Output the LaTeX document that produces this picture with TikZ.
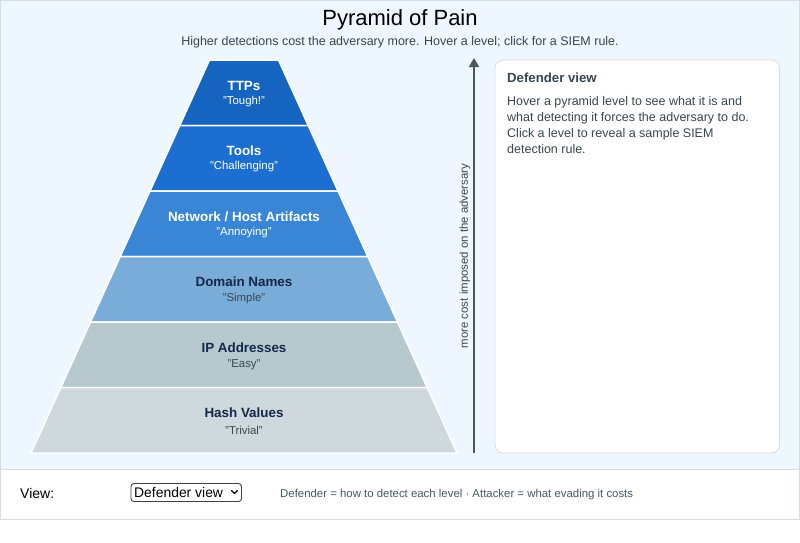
\documentclass[tikz,border=0pt]{standalone}
\usepackage{fontspec}
\setmainfont{Liberation Sans}
\usetikzlibrary{arrows.meta}
\definecolor{bgblue}{HTML}{EEF6FF}
\definecolor{frame}{HTML}{D5DCE3}
\definecolor{lvA}{HTML}{1565C0}
\definecolor{lvB}{HTML}{1C6FD0}
\definecolor{lvC}{HTML}{3A86D6}
\definecolor{lvD}{HTML}{79ACD9}
\definecolor{lvE}{HTML}{B8C8CF}
\definecolor{lvF}{HTML}{CFD8DD}
\definecolor{navy}{HTML}{14284A}
\definecolor{slate}{HTML}{455A64}
\definecolor{bodytxt}{HTML}{37474F}
\begin{document}
\begin{tikzpicture}[x=1pt,y=-1pt,
  level/.style={draw=white,line width=1.5pt,line join=miter},
  lname/.style={font=\fontsize{13.4}{15}\selectfont\bfseries,inner sep=0pt,anchor=center},
  lsub/.style={font=\fontsize{11.4}{13}\selectfont,inner sep=0pt,anchor=center},
  panelbox/.style={draw=frame,fill=white,rounded corners=8pt,line width=0.8pt},
  bodyline/.style={font=\fontsize{12.5}{16}\selectfont,text=bodytxt,inner sep=0pt,anchor=base west}]
\useasboundingbox (0,0) rectangle (800,542);
\fill[white] (0,0) rectangle (800,542);
% top area
\draw[fill=bgblue,draw=frame,line width=1pt] (0.5,0.5) rectangle (799.5,469);
% controls bar
\draw[fill=white,draw=frame,line width=1pt] (0.5,469) rectangle (799.5,519.5);
% title
\node[font=\fontsize{22}{26}\selectfont,inner sep=0pt] (title) at (400,20) {Pyramid of Pain};
\node[font=\fontsize{12.5}{14}\selectfont,text=bodytxt,inner sep=0pt] (subtitle) at (400,42) {Higher detections cost the adversary more. Hover a level; click for a SIEM rule.};
% pyramid
\fill[lvA,level] (209.5,60) -- (278.5,60) -- (308.25,125.5) -- (179.75,125.5) -- cycle;
\fill[lvB,level] (179.75,125.5) -- (308.25,125.5) -- (338,191) -- (150,191) -- cycle;
\fill[lvC,level] (150,191) -- (338,191) -- (367.75,256.5) -- (120.25,256.5) -- cycle;
\fill[lvD,level] (120.25,256.5) -- (367.75,256.5) -- (397.5,322) -- (90.5,322) -- cycle;
\fill[lvE,level] (90.5,322) -- (397.5,322) -- (427.25,387.5) -- (60.75,387.5) -- cycle;
\fill[lvF,level] (60.75,387.5) -- (427.25,387.5) -- (457,453) -- (31,453) -- cycle;
\node[lname,text=white] (l1) at (244,86) {TTPs};
\node[lsub,text=white] (s1) at (244,101.5) {"Tough!"};
\node[lname,text=white] (l2) at (244,151) {Tools};
\node[lsub,text=white] (s2) at (244,167) {"Challenging"};
\node[lname,text=white] (l3) at (244,216.5) {Network / Host Artifacts};
\node[lsub,text=white] (s3) at (244,233) {"Annoying"};
\node[lname,text=navy] (l4) at (244,282) {Domain Names};
\node[lsub,text=bodytxt] (s4) at (244,298.5) {"Simple"};
\node[lname,text=navy] (l5) at (244,348) {IP Addresses};
\node[lsub,text=bodytxt] (s5) at (244,364.5) {"Easy"};
\node[lname,text=navy] (l6) at (244,413) {Hash Values};
\node[lsub,text=bodytxt] (s6) at (244,430) {"Trivial"};
% cost arrow
\coordinate (abot) at (474,453);
\coordinate (atop) at (474,58);
\draw[slate,line width=2pt,-{Triangle[length=9pt,width=10pt]}] (abot) -- (atop);
\node[rotate=90,font=\fontsize{11.4}{13}\selectfont,text=bodytxt,inner sep=0pt] (costlbl) at (465,256) {more cost imposed on the adversary};
% panel
\draw[panelbox] (495,60) rectangle (779.5,453);
\node[font=\fontsize{13.2}{15}\selectfont\bfseries,text=bodytxt,inner sep=0pt,anchor=base west] (ptitle) at (507,82.5) {Defender view};
\node[bodyline] (p1) at (507,105.5) {Hover a pyramid level to see what it is and};
\node[bodyline] (p2) at (507,121.5) {what detecting it forces the adversary to do.};
\node[bodyline] (p3) at (507,137.5) {Click a level to reveal a sample SIEM};
\node[bodyline] (p4) at (507,153.5) {detection rule.};
% controls
\node[font=\fontsize{14}{16}\selectfont,inner sep=0pt,anchor=base west] (viewlbl) at (20,498) {View:};
\draw[draw=black!75,fill=white,rounded corners=3pt,line width=0.9pt] (131,483.5) rectangle (241.5,501.5);
\node[font=\fontsize{13.9}{16}\selectfont,inner sep=0pt,anchor=base west] (sel) at (134,497.5) {Defender view};
\draw[line width=1.2pt,line cap=round,line join=round] (231.5,490.5) -- (234.5,493.5) -- (237.5,490.5);
\node[font=\fontsize{11.4}{13}\selectfont,text=slate,inner sep=0pt,anchor=base west] (note) at (280,497.5) {Defender = how to detect each level · Attacker = what evading it costs};
\end{tikzpicture}
\end{document}
